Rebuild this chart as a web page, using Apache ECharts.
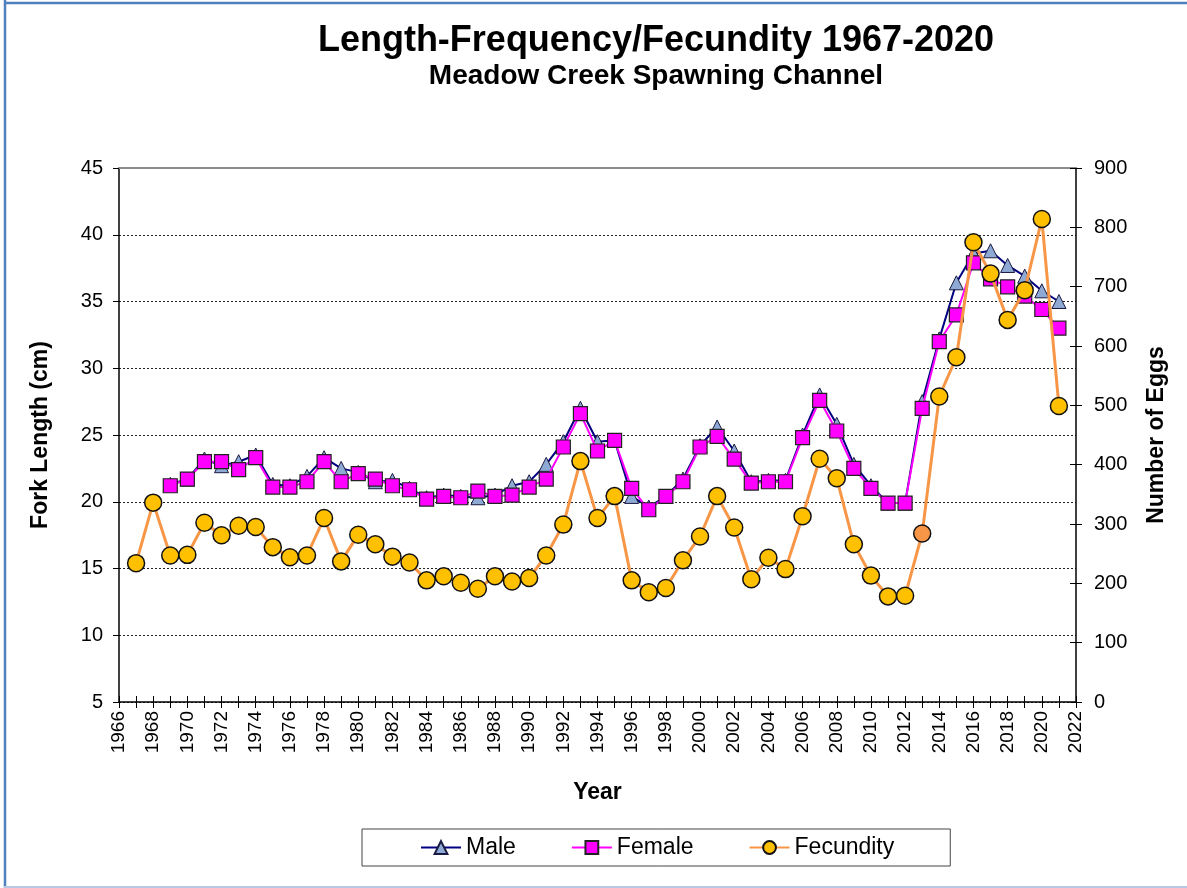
<!DOCTYPE html>
<html>
<head>
<meta charset="utf-8">
<script src="https://cdn.jsdelivr.net/npm/echarts@6/dist/echarts.min.js"></script>
<style>
  html, body { margin: 0; padding: 0; background: #fff; }
  #chart { width: 1187px; height: 888px; }
</style>
</head>
<body>
<div id="chart"></div>
<script>
// Survey years
const years = [
  1967, 1968, 1969, 1970, 1971, 1972, 1973, 1974, 1975, 1976,
  1977, 1978, 1979, 1980, 1981, 1982, 1983, 1984, 1985, 1986,
  1987, 1988, 1989, 1990, 1991, 1992, 1993, 1994, 1995, 1996,
  1997, 1998, 1999, 2000, 2001, 2002, 2003, 2004, 2005, 2006,
  2007, 2008, 2009, 2010, 2011, 2012, 2013, 2014, 2015, 2016,
  2017, 2018, 2019, 2020, 2021
];

// Mean fork length of males (cm)
const male = [
  null, null, 21.3, 21.7, 23.2, 22.7, 23.0, 23.5, 21.3, 21.2,
  21.9, 23.3, 22.5, 22.2, 21.5, 21.6, 21.0, 20.3, 20.5, 20.4,
  20.3, 20.5, 21.2, 21.5, 22.8, 24.5, 27.0, 24.5, 24.6, 20.4,
  19.6, 20.4, 21.7, 24.2, 25.6, 23.8, 21.5, 21.6, 21.6, 25.0,
  28.0, 25.8, 22.8, 21.2, 19.9, 19.9, 27.5, 32.2, 36.4, 38.6,
  38.8, 37.7, 36.9, 35.8, 35.0
];

// Mean fork length of females (cm)
const female = [
  null, null, 21.2, 21.7, 23.0, 23.0, 22.4, 23.3, 21.1, 21.1,
  21.5, 23.0, 21.5, 22.1, 21.7, 21.2, 20.9, 20.2, 20.4, 20.3,
  20.8, 20.4, 20.5, 21.1, 21.7, 24.1, 26.6, 23.8, 24.6, 21.0,
  19.4, 20.4, 21.5, 24.1, 24.9, 23.2, 21.4, 21.5, 21.5, 24.8,
  27.6, 25.3, 22.5, 21.0, 19.9, 19.9, 27.0, 32.0, 34.0, 37.9,
  36.7, 36.1, 35.4, 34.4, 33.0
];

// Fecundity (number of eggs per female)
const fecundity = [
  234, 336, 247, 248, 302, 281, 297, 295, 261, 244,
  247, 310, 237, 282, 266, 245, 235, 205, 212, 201,
  191, 212, 203, 209, 247, 299, 406, 310, 347, 205,
  185, 192, 239, 279, 347, 294, 207, 243, 224, 313,
  410, 377, 266, 213, 178, 179, 284, 515, 581, 775,
  722, 644, 694, 814, 499
];

// Year whose fecundity marker is shown in a different fill
const flaggedYear = 2013;

const FONT = '"Liberation Sans", Arial, sans-serif';

const pairs = arr => years.map((y, i) => [y, arr[i]]);
const fecundityData = years.map((y, i) => y === flaggedYear
  ? { value: [y, fecundity[i]], itemStyle: { color: '#F79646' } }
  : [y, fecundity[i]]);

const xCommon = { type: 'value', min: 1966, max: 2022, interval: 1, gridIndex: 0 };
const tickLabel = { color: '#000', fontFamily: FONT, fontSize: 20 };
const axisName = { fontFamily: FONT, fontWeight: 'bold', fontSize: 23, color: '#000' };

const chart = echarts.init(document.getElementById('chart'), null, { renderer: 'canvas' });

chart.setOption({
  backgroundColor: '#ffffff',
  animation: false,
  title: [
    {
      text: 'Length-Frequency/Fecundity 1967-2020',
      left: 651, top: 18, textAlign: 'center',
      textStyle: { fontFamily: FONT, fontWeight: 'bold', fontSize: 36, color: '#000' }
    },
    {
      text: 'Meadow Creek Spawning Channel',
      left: 651, top: 57, textAlign: 'center',
      textStyle: { fontFamily: FONT, fontWeight: 'bold', fontSize: 28, color: '#000' }
    }
  ],
  graphic: [
    { type: 'line', shape: { x1: 5, y1: 0, x2: 5, y2: 888 }, style: { stroke: '#4F81BD', lineWidth: 2.5 } },
    { type: 'line', shape: { x1: 4, y1: 3, x2: 1187, y2: 3 }, style: { stroke: '#4F81BD', lineWidth: 2.5 } },
    { type: 'line', shape: { x1: 4, y1: 887, x2: 1187, y2: 887 }, style: { stroke: '#B8C8E4', lineWidth: 2 } }
  ],
  grid: { left: 119, right: 111, top: 168, bottom: 186 },
  legend: {
    data: ['Male', 'Female', 'Fecundity'],
    left: 362, top: 829,
    padding: [7, 56, 7, 58],
    itemGap: 55,
    itemWidth: 40, itemHeight: 16,
    borderColor: '#444', borderWidth: 1,
    backgroundColor: '#fff',
    textStyle: { fontFamily: FONT, fontSize: 23, color: '#000' }
  },
  xAxis: [
    Object.assign({}, xCommon, {
      position: 'bottom',
      name: 'Year', nameLocation: 'middle', nameGap: 79,
      nameTextStyle: axisName,
      axisLine: { lineStyle: { color: '#000', width: 1.5 } },
      axisTick: { show: true, length: 6, lineStyle: { color: '#000', width: 1 } },
      axisLabel: Object.assign({}, tickLabel, {
        rotate: 90, margin: 9, fontSize: 19,
        formatter: v => (v % 2 === 0 ? String(v) : '')
      }),
      splitLine: { show: false }
    }),
    // inner half of the crossing tick marks
    Object.assign({}, xCommon, {
      position: 'bottom',
      axisLine: { show: false },
      axisTick: { show: true, inside: true, length: 6, lineStyle: { color: '#000', width: 1 } },
      axisLabel: { show: false },
      splitLine: { show: false }
    }),
    // plot-area top edge
    Object.assign({}, xCommon, {
      position: 'top',
      axisLine: { show: true, lineStyle: { color: '#8c8c8c', width: 2 } },
      axisTick: { show: false },
      axisLabel: { show: false },
      splitLine: { show: false }
    })
  ],
  yAxis: [
    {
      type: 'value', min: 5, max: 45, interval: 5, position: 'left',
      name: 'Fork Length (cm)', nameLocation: 'middle', nameGap: 67,
      nameTextStyle: axisName,
      axisLine: { show: true, lineStyle: { color: '#000', width: 1.5 } },
      axisTick: { show: true, length: 6, lineStyle: { color: '#000', width: 1 } },
      axisLabel: Object.assign({}, tickLabel, { margin: 16 }),
      splitLine: { show: true, lineStyle: { color: '#222', width: 1, type: [2, 2] } }
    },
    {
      type: 'value', min: 0, max: 900, interval: 100, position: 'right',
      name: 'Number of Eggs', nameLocation: 'middle', nameGap: 69,
      nameTextStyle: axisName,
      axisLine: { show: true, lineStyle: { color: '#000', width: 1.5 } },
      axisTick: { show: true, length: 6, lineStyle: { color: '#000', width: 1 } },
      axisLabel: Object.assign({}, tickLabel, { margin: 18 }),
      splitLine: { show: false }
    },
    // inner half of the crossing tick marks on the egg axis
    {
      type: 'value', min: 0, max: 900, interval: 100, position: 'right',
      axisLine: { show: false },
      axisTick: { show: true, inside: true, length: 6, lineStyle: { color: '#000', width: 1 } },
      axisLabel: { show: false },
      splitLine: { show: false }
    }
  ],
  series: [
    {
      name: 'Male', type: 'line', xAxisIndex: 0, yAxisIndex: 0,
      data: pairs(male),
      symbol: 'triangle', symbolSize: 14,
      lineStyle: { color: '#000080', width: 2 },
      itemStyle: { color: '#8EA9D3', borderColor: '#1a1a40', borderWidth: 1 },
      z: 3
    },
    {
      name: 'Female', type: 'line', xAxisIndex: 0, yAxisIndex: 0,
      data: pairs(female),
      symbol: 'rect', symbolSize: 14,
      lineStyle: { color: '#FF00FF', width: 2 },
      itemStyle: { color: '#FF00FF', borderColor: '#222', borderWidth: 1.2 },
      z: 4
    },
    {
      name: 'Fecundity', type: 'line', xAxisIndex: 0, yAxisIndex: 1,
      data: fecundityData,
      symbol: 'circle', symbolSize: 17,
      lineStyle: { color: '#F79646', width: 3 },
      itemStyle: { color: '#FFC000', borderColor: '#111', borderWidth: 1.5 },
      z: 5
    }
  ]
});
</script>
</body>
</html>
